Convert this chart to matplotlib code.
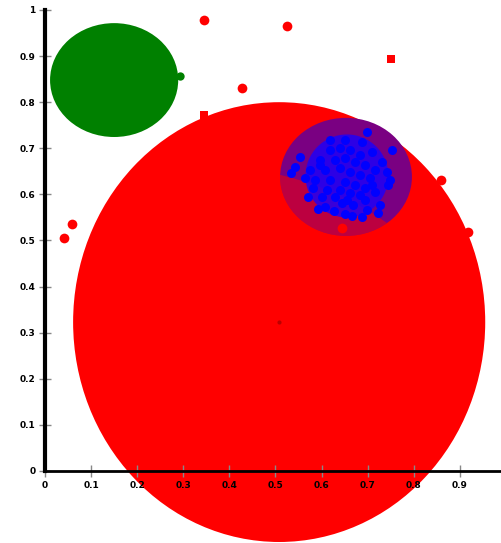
import matplotlib

matplotlib.use("Agg")
import matplotlib.pyplot as plt
from matplotlib.patches import Ellipse, Circle

# big "cluster" areas: centre x, centre y, width, height
RED_AREA = (0.508, 0.323, 0.894, 0.954)
GREEN_AREA = (0.150, 0.848, 0.278, 0.247)
PURPLE_AREA = (0.653, 0.638, 0.286, 0.256)
BLUE_CORE = (0.655, 0.640, 0.180, 0.180)
OVERLAP_CENTRE = (0.358, -0.004)
OVERLAP_R = 0.664

RED_X = [0.345, 0.525, 0.427, 0.041, 0.059, 0.859, 0.918, 0.644]
RED_Y = [0.978, 0.965, 0.831, 0.505, 0.536, 0.631, 0.518, 0.527]
RED_SQ_X = [0.751, 0.345]
RED_SQ_Y = [0.894, 0.772]
GREEN_X = [0.293]
GREEN_Y = [0.857]

BLUE_X = [0.698, 0.688, 0.753, 0.709, 0.731, 0.553, 0.542, 0.534, 0.742,
          0.748, 0.744, 0.581, 0.612, 0.570, 0.601, 0.629, 0.655, 0.644,
          0.668, 0.592, 0.607, 0.627, 0.651, 0.666, 0.688, 0.698, 0.722,
          0.727, 0.694,
          0.618, 0.640, 0.662, 0.683, 0.597, 0.629, 0.651, 0.672, 0.694,
          0.716, 0.575, 0.607, 0.640, 0.662, 0.683, 0.705, 0.586, 0.618,
          0.651, 0.672, 0.694, 0.716, 0.640, 0.662, 0.597, 0.564, 0.709,
          0.683, 0.618, 0.651]
BLUE_Y = [0.735, 0.714, 0.696, 0.692, 0.670, 0.681, 0.659, 0.646, 0.649,
          0.631, 0.620, 0.614, 0.610, 0.594, 0.594, 0.594, 0.588, 0.581,
          0.577, 0.568, 0.573, 0.564, 0.557, 0.553, 0.551, 0.566, 0.560,
          0.577, 0.588,
          0.696, 0.701, 0.696, 0.685, 0.675, 0.675, 0.679, 0.670, 0.664,
          0.653, 0.653, 0.653, 0.657, 0.649, 0.642, 0.636, 0.631, 0.631,
          0.627, 0.620, 0.614, 0.605, 0.610, 0.603, 0.664, 0.636, 0.620,
          0.599, 0.718, 0.718]

X_TICKS = [0, 0.1, 0.2, 0.3, 0.4, 0.5, 0.6, 0.7, 0.8, 0.9]
X_LABELS = ["0", "0.1", "0.2", "0.3", "0.4", "0.5", "0.6", "0.7", "0.8", "0.9"]
Y_TICKS = [0, 0.1, 0.2, 0.3, 0.4, 0.5, 0.6, 0.7, 0.8, 0.9, 1]
Y_LABELS = ["0", "0.1", "0.2", "0.3", "0.4", "0.5", "0.6", "0.7", "0.8",
            "0.9", "1"]


def ell(spec, **kw):
    x, y, w, h = spec
    return Ellipse((x, y), w, h, **kw)


fig = plt.figure(figsize=(5.01, 5.43), dpi=100)
ax = fig.add_axes([0.0898, 0.1326, 0.910, 0.849])
ax.set_xlim(0, 0.989)
ax.set_ylim(0, 1)

ax.add_patch(ell(RED_AREA, color="#ff0000", lw=0, clip_on=False, zorder=1))
ax.add_patch(ell(GREEN_AREA, color="#008000", lw=0, zorder=2))
purple = ell(PURPLE_AREA, color="#7a0082", lw=0, zorder=3)
ax.add_patch(purple)
over = Circle(OVERLAP_CENTRE, OVERLAP_R, color="#ff0000", alpha=0.5, lw=0,
              zorder=4)
ax.add_patch(over)
over.set_clip_path(purple)
ax.add_patch(ell(BLUE_CORE, color="#1a00ff", alpha=0.8, lw=0, zorder=5))

ax.plot(BLUE_X, BLUE_Y, "o", color="#0000ff", ms=6.5, mew=0, zorder=6)
ax.plot(RED_X, RED_Y, "o", color="#ff0000", ms=7, mew=0, zorder=7)
ax.plot(RED_SQ_X, RED_SQ_Y, "s", color="#ff0000", ms=6, mew=0, zorder=7)
ax.plot(GREEN_X, GREEN_Y, "o", color="#008000", ms=6, mew=0, zorder=7)
ax.plot([RED_AREA[0]], [RED_AREA[1]], "o", color="#a00000", ms=3, mew=0,
        alpha=0.7, zorder=7)

for side in ("top", "right"):
    ax.spines[side].set_visible(False)
ax.spines["left"].set_linewidth(3)
ax.spines["bottom"].set_linewidth(2)
ax.spines["left"].set_zorder(10)
ax.spines["bottom"].set_zorder(10)

ax.set_xticks(X_TICKS)
ax.set_xticklabels(X_LABELS)
ax.set_yticks(Y_TICKS)
ax.set_yticklabels(Y_LABELS)
ax.tick_params(direction="inout", length=8, width=1, color="#888888",
               labelsize=6.5, pad=3)
for lab in ax.get_xticklabels() + ax.get_yticklabels():
    lab.set_fontweight("bold")

fig.savefig("out.png", dpi=100)
